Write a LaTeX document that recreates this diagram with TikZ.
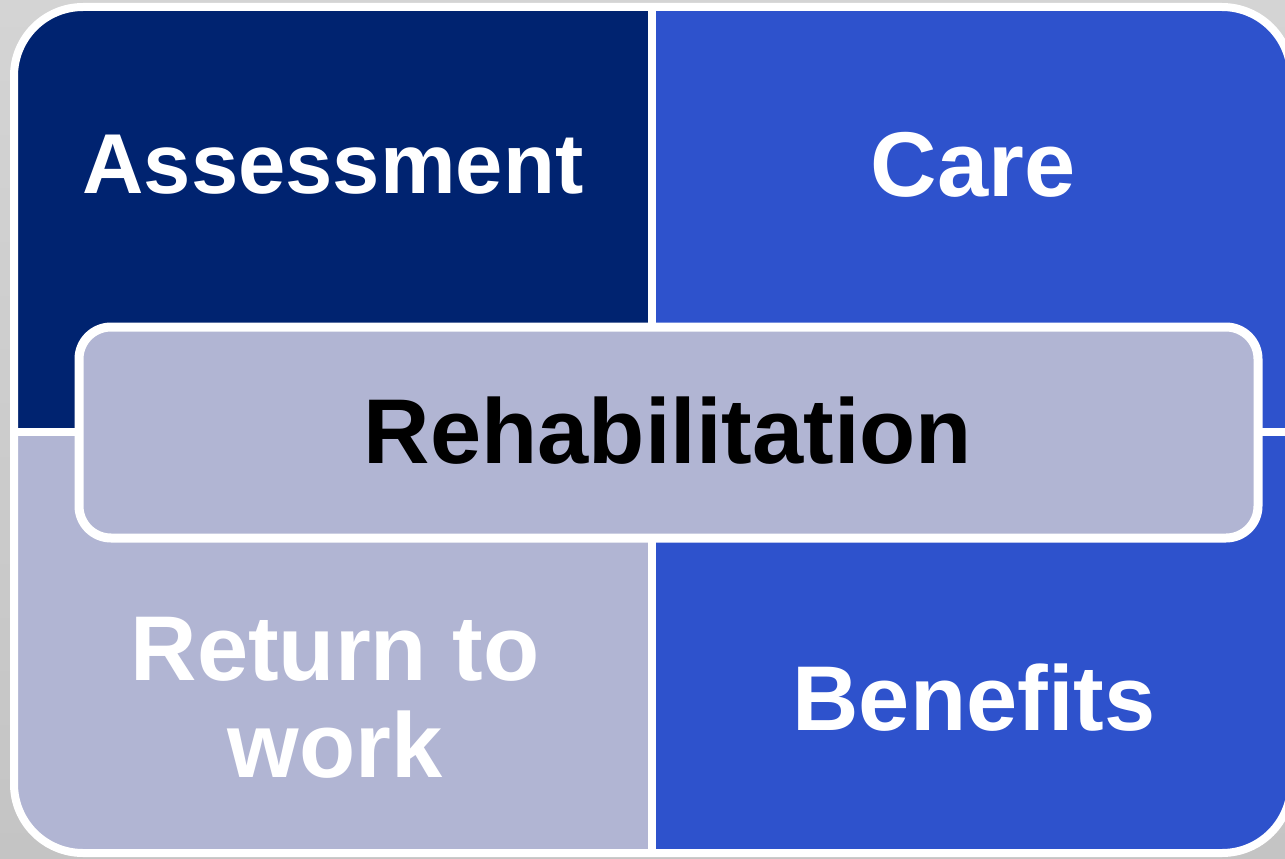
\documentclass[tikz,border=0pt]{standalone}
\usepackage{fontspec}
\setmainfont{Liberation Sans}
\definecolor{navy}{RGB}{0,35,112}
\definecolor{royal}{RGB}{46,82,204}
\definecolor{lavender}{RGB}{177,181,211}
\definecolor{bgtop}{RGB}{212,212,212}
\definecolor{bgbottom}{RGB}{196,196,196}
\tikzset{
  label text/.style={font=\bfseries\fontsize{92}{97}\selectfont, text=white, inner sep=0pt, align=center},
  center box/.style={draw=white, line width=9pt, fill=lavender, rounded corners=32pt,
    minimum width=1179pt, minimum height=211pt, inner sep=0pt}
}
\begin{document}
\begin{tikzpicture}[x=1pt, y=-1pt]
    \useasboundingbox (0, 0) rectangle (1285, 859);
    \shade[top color=bgtop, bottom color=bgbottom] (0, 0) rectangle (1285, 859);

    % four quarters inside the outer frame
    \begin{scope}
      \clip[rounded corners=69pt] (14, 7) rectangle (1291, 853);
      \fill[navy] (0, 0) rectangle (652, 432);
      \fill[royal] (652, 0) rectangle (1300, 432);
      \fill[lavender] (0, 432) rectangle (652, 860);
      \fill[royal] (652, 432) rectangle (1300, 860);
      \draw[white, line width=8pt] (652, 0) -- (652, 860);
      \draw[white, line width=8pt] (0, 432) -- (1300, 432);
    \end{scope}
    \draw[white, line width=8pt, rounded corners=69pt] (14, 7) rectangle (1291, 853);

    \node[label text, anchor=base, font=\bfseries\fontsize{85}{97}\selectfont] (assess) at (333, 193) {Assessment};
    \node[label text, anchor=base] (care) at (973, 196) {Care};
    \node[label text] (work) at (335, 698) {Return to\\work};
    \node[label text, anchor=base] (benefits) at (974, 730) {Benefits};

    \node[center box] (rehab) at (668.5, 432.5) {};
    \node[label text, anchor=base, text=black] (rehabtext) at (668, 463) {Rehabilitation};
\end{tikzpicture}
\end{document}
